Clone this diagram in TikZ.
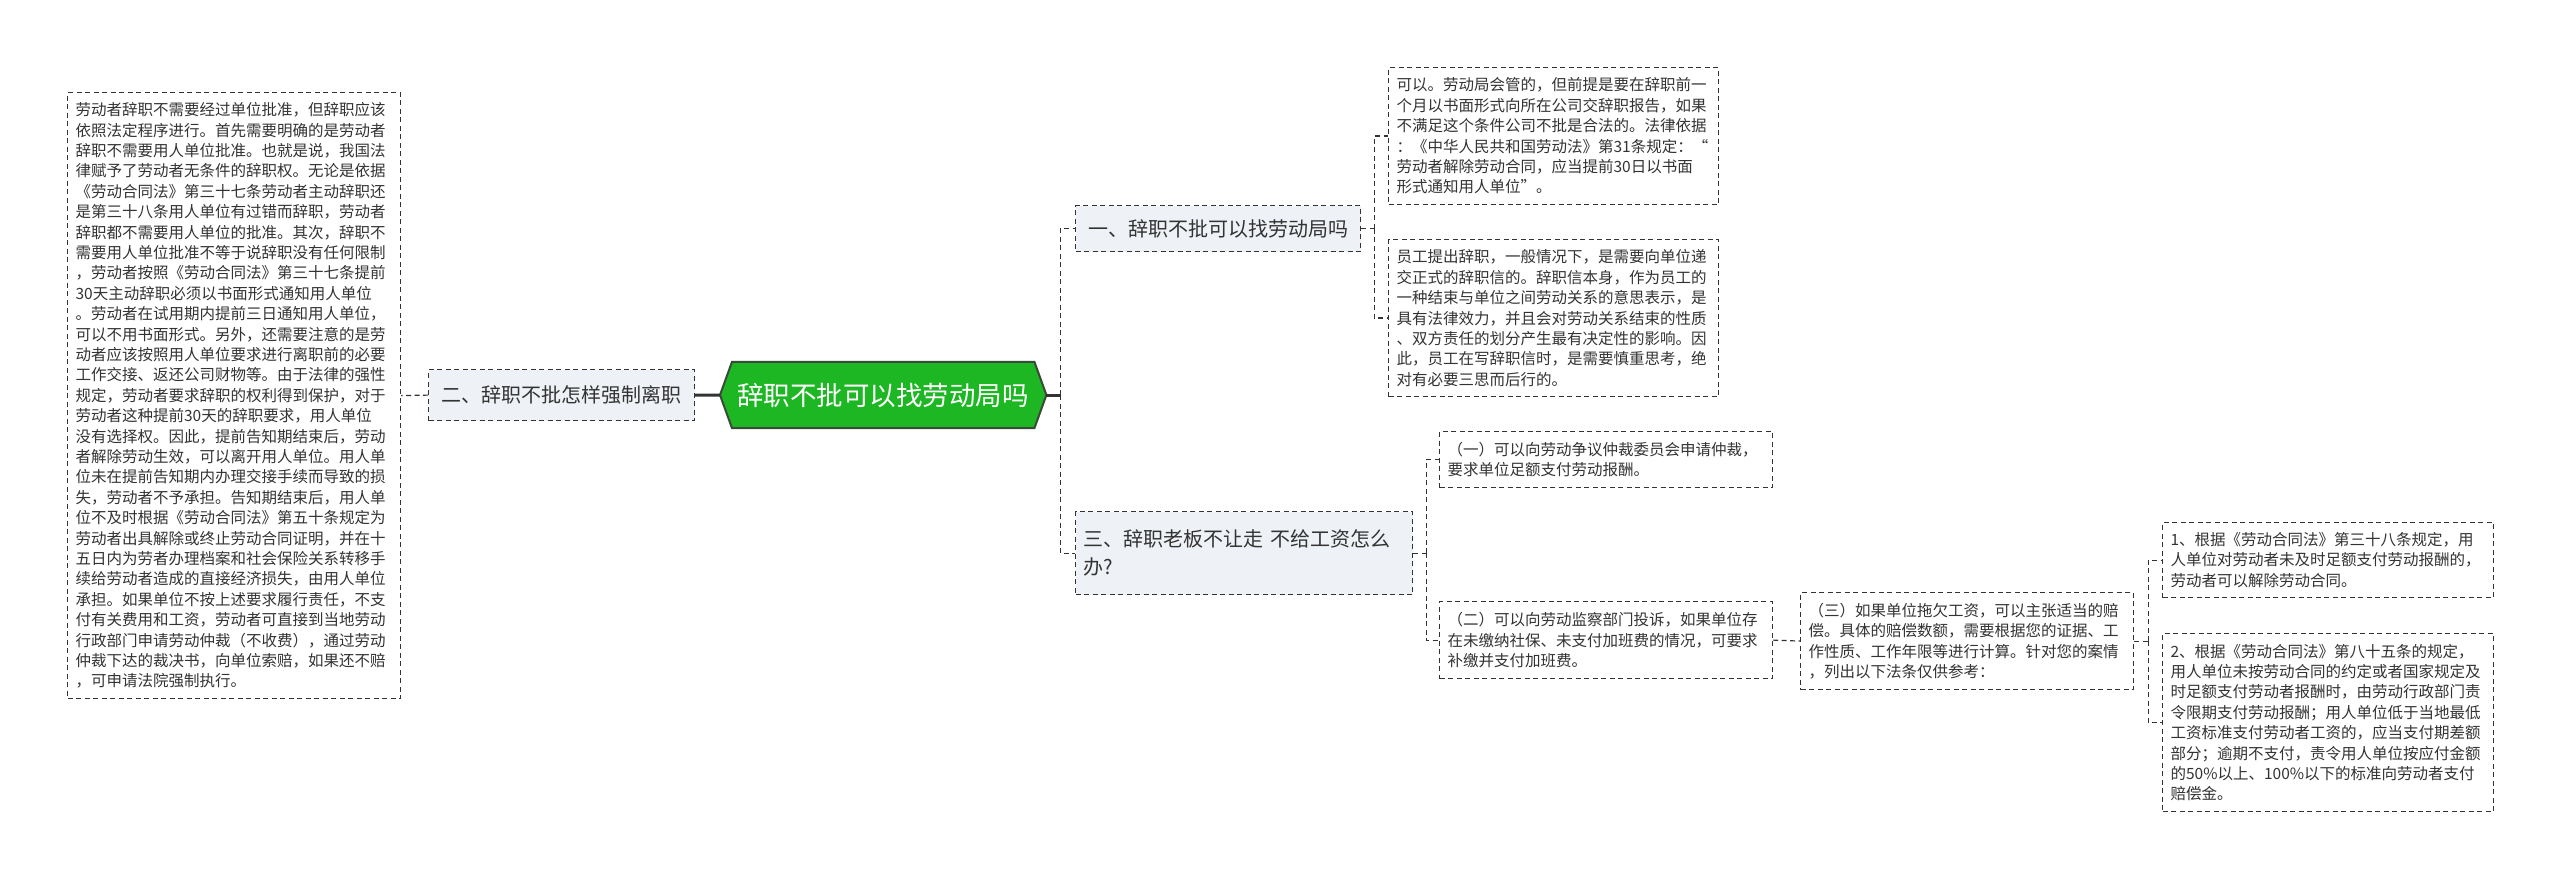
\documentclass[tikz,border=0pt]{standalone}
\usepackage{fontspec}
\newfontfamily\cjk{Noto Sans CJK SC}
\usetikzlibrary{backgrounds}
\definecolor{ink}{HTML}{333333}
\definecolor{lvl}{HTML}{EEF1F5}
\definecolor{ctrfill}{HTML}{1DB723}
\definecolor{ctrline}{HTML}{3A4A3A}
\tikzset{
  txtbox/.style={draw=ink, line width=1.2pt, dash pattern=on 5pt off 3.5pt, fill=white,
    anchor=north west, inner xsep=8pt, inner ysep=0pt, align=left, text=ink,
    font=\cjk\fontsize{15.5}{20.4}\selectfont},
  lvlbox/.style={draw=ink, line width=1.2pt, dash pattern=on 5pt off 3.5pt, fill=lvl,
    anchor=north west, inner xsep=8pt, inner ysep=0pt, text=ink,
    font=\cjk\fontsize{20}{28}\selectfont},
  dconn/.style={draw=ink, line width=1.2pt, dash pattern=on 5pt off 3.5pt},
  sconn/.style={draw=ink, line width=3pt},
}
\begin{document}
\begin{tikzpicture}[x=1pt,y=-1pt]
\begin{scope}[on background layer]
\fill[white] (0,0) rectangle (2560,877);
\end{scope}
\useasboundingbox (0,0) rectangle (2560,877);

% left text
\node[txtbox, minimum width=333pt, minimum height=606pt, text width=317pt] (lbox) at (67,92) {劳动者辞职不需要经过单位批准，但辞职应该\\依照法定程序进行。首先需要明确的是劳动者\\辞职不需要用人单位批准。也就是说，我国法\\律赋予了劳动者无条件的辞职权。无论是依据\\《劳动合同法》第三十七条劳动者主动辞职还\\是第三十八条用人单位有过错而辞职，劳动者\\辞职都不需要用人单位的批准。其次，辞职不\\需要用人单位批准不等于说辞职没有任何限制\\，劳动者按照《劳动合同法》第三十七条提前\\30天主动辞职必须以书面形式通知用人单位\\。劳动者在试用期内提前三日通知用人单位，\\可以不用书面形式。另外，还需要注意的是劳\\动者应该按照用人单位要求进行离职前的必要\\工作交接、返还公司财物等。由于法律的强性\\规定，劳动者要求辞职的权利得到保护，对于\\劳动者这种提前30天的辞职要求，用人单位\\没有选择权。因此，提前告知期结束后，劳动\\者解除劳动生效，可以离开用人单位。用人单\\位未在提前告知期内办理交接手续而导致的损\\失，劳动者不予承担。告知期结束后，用人单\\位不及时根据《劳动合同法》第五十条规定为\\劳动者出具解除或终止劳动合同证明，并在十\\五日内为劳者办理档案和社会保险关系转移手\\续给劳动者造成的直接经济损失，由用人单位\\承担。如果单位不按上述要求履行责任，不支\\付有关费用和工资，劳动者可直接到当地劳动\\行政部门申请劳动仲裁（不收费），通过劳动\\仲裁下达的裁决书，向单位索赔，如果还不赔\\，可申请法院强制执行。};

% level 1 nodes
\node[lvlbox, minimum width=266pt, minimum height=51pt, align=center] (two) at (428,369) {二、辞职不批怎样强制离职};
\node[lvlbox, minimum width=285pt, minimum height=46pt, align=center] (one) at (1075,205) {一、辞职不批可以找劳动局吗};
\node[lvlbox, minimum width=337pt, minimum height=83pt, align=left, text width=321pt] (three) at (1075,511) {三、辞职老板不让走 不给工资怎么\\办?};

% center
\node[font=\cjk\fontsize{26.5}{30}\selectfont, text=white, minimum width=326pt, minimum height=66pt, inner sep=0pt, anchor=west] (ctr) at (720,395) {辞职不批可以找劳动局吗};
\begin{scope}[on background layer]
\draw[fill=ctrfill, draw=ctrline, line width=2pt, line join=miter] (ctr.west) -- ([xshift=12pt]ctr.north west) -- ([xshift=-12pt]ctr.north east) -- (ctr.east) -- ([xshift=-12pt]ctr.south east) -- ([xshift=12pt]ctr.south west) -- cycle;
\end{scope}

% right text boxes
\node[txtbox, minimum width=330pt, minimum height=137pt, text width=314pt] (A) at (1388,67) {可以。劳动局会管的，但前提是要在辞职前一\\个月以书面形式向所在公司交辞职报告，如果\\不满足这个条件公司不批是合法的。法律依据\\：《中华人民共和国劳动法》第31条规定：“\\劳动者解除劳动合同，应当提前30日以书面\\形式通知用人单位”。};
\node[txtbox, minimum width=330pt, minimum height=157pt, text width=314pt] (B) at (1388,239) {员工提出辞职，一般情况下，是需要向单位递\\交正式的辞职信的。辞职信本身，作为员工的\\一种结束与单位之间劳动关系的意思表示，是\\具有法律效力，并且会对劳动关系结束的性质\\、双方责任的划分产生最有决定性的影响。因\\此，员工在写辞职信时，是需要慎重思考，绝\\对有必要三思而后行的。};
\node[txtbox, minimum width=333pt, minimum height=56pt, text width=317pt] (b1) at (1439,431) {（一）可以向劳动争议仲裁委员会申请仲裁，\\要求单位足额支付劳动报酬。};
\node[txtbox, minimum width=333pt, minimum height=77pt, text width=317pt] (b2) at (1439,601) {（二）可以向劳动监察部门投诉，如果单位存\\在未缴纳社保、未支付加班费的情况，可要求\\补缴并支付加班费。};
\node[txtbox, minimum width=333pt, minimum height=97pt, text width=317pt] (b3) at (1800,592) {（三）如果单位拖欠工资，可以主张适当的赔\\偿。具体的赔偿数额，需要根据您的证据、工\\作性质、工作年限等进行计算。针对您的案情\\，列出以下法条仅供参考：};
\node[txtbox, minimum width=331pt, minimum height=75pt, text width=315pt] (R1) at (2162,522) {1、根据《劳动合同法》第三十八条规定，用\\人单位对劳动者未及时足额支付劳动报酬的，\\劳动者可以解除劳动合同。};
\node[txtbox, minimum width=331pt, minimum height=178pt, text width=315pt] (R2) at (2162,633) {2、根据《劳动合同法》第八十五条的规定，\\用人单位未按劳动合同的约定或者国家规定及\\时足额支付劳动者报酬时，由劳动行政部门责\\令限期支付劳动报酬；用人单位低于当地最低\\工资标准支付劳动者工资的，应当支付期差额\\部分；逾期不支付，责令用人单位按应付金额\\的50\%以上、100\%以下的标准向劳动者支付\\赔偿金。};

% connectors
\draw[sconn] (two.east) -- (ctr.west);
\draw[dconn] (two.west) -- (lbox.east);
\draw[sconn] (ctr.east) -- ++(14,0) coordinate (sp1);
\draw[dconn] (sp1) |- (one.west);
\draw[dconn] (sp1) |- (three.west);
\draw[dconn] (one.east) -- ++(13,0) coordinate (sp2);
\draw[dconn] (sp2) |- (A.west);
\draw[dconn] (sp2) |- (B.west);
\draw[dconn] (three.east) -- ++(13,0) coordinate (sp3);
\draw[dconn] (sp3) |- (b1.west);
\draw[dconn] (sp3) |- (b2.west);
\draw[dconn] (b2.east) -- (b3.west);
\draw[dconn] (b3.east) -- ++(14,0) coordinate (sp4);
\draw[dconn] (sp4) |- (R1.west);
\draw[dconn] (sp4) |- (R2.west);
\end{tikzpicture}
\end{document}
